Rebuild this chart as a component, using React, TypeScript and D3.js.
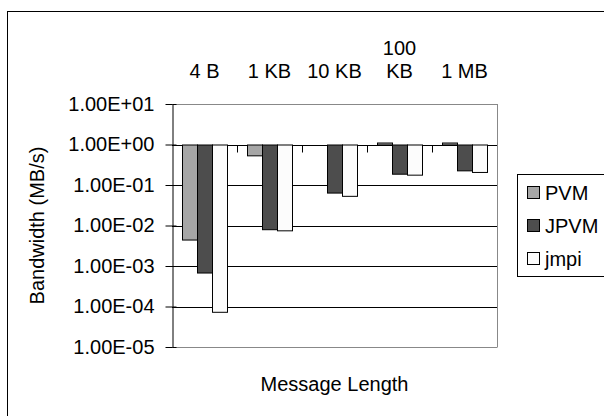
import React, { useEffect, useRef } from 'react';
import * as d3 from 'd3';

const categories = [['4 B'], ['1 KB'], ['10 KB'], ['100', 'KB'], ['1 MB']];
const seriesNames = ['PVM', 'JPVM', 'jmpi'];
const pvm = [4.5e-3, 0.54, 1.0, 1.12, 1.12];
const jpvm = [6.9e-4, 8.1e-3, 0.065, 0.19, 0.23];
const jmpi = [7.4e-5, 7.6e-3, 0.054, 0.18, 0.21];
const yTicks = [1e1, 1e0, 1e-1, 1e-2, 1e-3, 1e-4, 1e-5];
const colors = ['#a6a6a6', '#4d4d4d', '#fcfcfc'];

const fmt = (v: number) => {
  const e = Math.round(Math.log10(v));
  const s = Math.abs(e) < 10 ? '0' + Math.abs(e) : '' + Math.abs(e);
  return '1.00E' + (e < 0 ? '-' : '+') + s;
};

const App = () => {
  const svgRef = useRef<SVGSVGElement>(null);

  useEffect(() => {
    const width = 604;
    const height = 416;
    const left = 172, right = 497, top = 104, bottom = 347;
    const font = '"Liberation Sans", Arial, sans-serif';

    svgRef.current!.innerHTML = '';
    const svg = d3.select(svgRef.current)
      .attr('width', width)
      .attr('height', height)
      .style('font-family', font);

    svg.append('rect')
      .attr('x', 0).attr('y', 0).attr('width', width).attr('height', height)
      .attr('fill', '#fff');

    // outer frame
    svg.append('rect')
      .attr('x', 7.5).attr('y', 11.5).attr('width', 620).attr('height', 430)
      .attr('fill', 'none').attr('stroke', '#000');

    const x = d3.scaleBand<number>()
      .domain(d3.range(categories.length))
      .range([left, right]);

    const xs = d3.scaleBand<number>()
      .domain(d3.range(seriesNames.length))
      .range([10, x.bandwidth() - 10]);

    const y = d3.scaleLog()
      .domain([1e-5, 1e1])
      .range([bottom, top]);

    // gridlines
    svg.append('g')
      .selectAll('line')
      .data(yTicks)
      .enter().append('line')
      .attr('x1', left).attr('x2', right)
      .attr('y1', d => Math.round(y(d)) + 0.5)
      .attr('y2', d => Math.round(y(d)) + 0.5)
      .attr('stroke', d => (d === 1e1 || d === 1e-5) ? '#888' : '#000')
      .attr('stroke-width', 1);

    // right border
    svg.append('line')
      .attr('x1', right + 0.5).attr('x2', right + 0.5)
      .attr('y1', y(1e1)).attr('y2', y(1e-5) + 0.5)
      .attr('stroke', '#888');

    // bars
    const data = [pvm, jpvm, jmpi];
    data.forEach((vals, si) => {
      svg.append('g')
        .attr('fill', colors[si])
        .attr('stroke', '#000')
        .selectAll('rect')
        .data(vals)
        .enter().append('rect')
        .attr('x', (d, i) => Math.round(x(i)! + xs(si)!) + 0.5)
        .attr('width', Math.round(xs.bandwidth()))
        .attr('y', d => Math.min(y(d), y(1)) + 0.5)
        .attr('height', d => Math.abs(y(d) - y(1)));
    });

    // y axis
    const yAxis = svg.append('g')
      .attr('transform', `translate(${left + 0.5},0)`)
      .call(d3.axisLeft(y).tickValues(yTicks).tickFormat(d => fmt(+d)).tickSizeInner(7).tickSizeOuter(0).tickPadding(11));
    yAxis.selectAll('text').style('font-size', '20px').style('font-family', font).attr('fill', '#000');
    yAxis.selectAll('.tick line').attr('x2', -7).clone().attr('x2', 4);
    yAxis.select('.domain').attr('stroke', '#000');

    // category axis at 1
    const y1 = Math.round(y(1)) + 0.5;
    svg.append('g')
      .selectAll('line')
      .data(d3.range(1, categories.length))
      .enter().append('line')
      .attr('x1', d => Math.round(x(d)!) + 0.5)
      .attr('x2', d => Math.round(x(d)!) + 0.5)
      .attr('y1', y1).attr('y2', y1 + 7)
      .attr('stroke', '#000');

    // category labels above the plot
    svg.append('g')
      .selectAll('text')
      .data(categories)
      .enter().append('text')
      .attr('x', (d, i) => x(i)! + x.bandwidth() / 2)
      .attr('text-anchor', 'middle')
      .style('font-size', '20px')
      .each(function (d) {
        const t = d3.select(this);
        d.forEach((line, li) => {
          t.append('tspan')
            .attr('x', t.attr('x'))
            .attr('y', 78 - (d.length - 1 - li) * 23)
            .text(line);
        });
      });

    // axis titles
    svg.append('text')
      .attr('x', (left + right) / 2)
      .attr('y', 391)
      .attr('text-anchor', 'middle')
      .style('font-size', '20px')
      .text('Message Length');

    svg.append('text')
      .attr('transform', `translate(44,${(top + bottom) / 2}) rotate(-90)`)
      .attr('text-anchor', 'middle')
      .style('font-size', '20px')
      .text('Bandwidth (MB/s)');

    // legend
    const legend = svg.append('g');
    legend.append('rect')
      .attr('x', 517.5).attr('y', 174.5).attr('width', 100).attr('height', 102)
      .attr('fill', '#fff').attr('stroke', '#000');
    seriesNames.forEach((name, i) => {
      const cy = 193 + i * 33;
      legend.append('rect')
        .attr('x', 527.5).attr('y', cy - 6.5).attr('width', 12).attr('height', 12)
        .attr('fill', colors[i]).attr('stroke', '#000');
      legend.append('text')
        .attr('x', 545).attr('y', cy + 7)
        .style('font-size', '20px')
        .text(name);
    });
  }, []);

  return (
    <svg ref={svgRef} style={{ position: 'absolute', left: 0, top: 0 }}></svg>
  );
};

export default App;
